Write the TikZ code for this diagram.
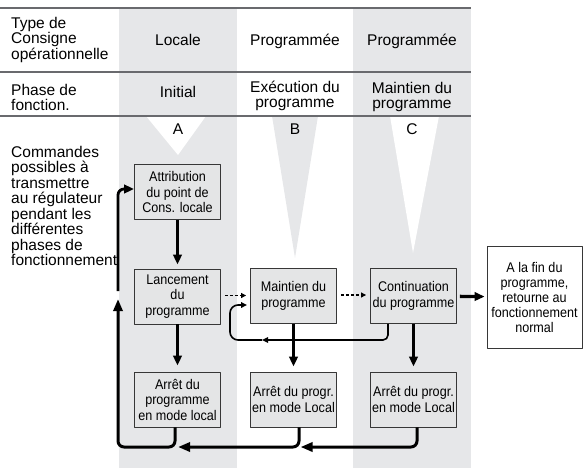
\documentclass[tikz,border=0pt]{standalone}
\usepackage{fontspec}
\setmainfont{Liberation Sans}
\newfontfamily\narrowsf[FakeStretch=0.9]{Liberation Sans}
\usepackage{tikz}
\usetikzlibrary{arrows.meta, positioning, calc}
\definecolor{colgray}{RGB}{230,231,233}
\definecolor{boxgray}{RGB}{228,229,230}
\definecolor{rulegray}{RGB}{105,106,110}
\definecolor{edgegray}{RGB}{55,55,55}
\tikzset{
  cmdbox/.style={rectangle, draw=edgegray, fill=boxgray, line width=0.9pt,
    minimum width=86pt, minimum height=55pt, align=center, inner sep=1pt,
    font=\narrowsf\fontsize{14}{15.5}\selectfont},
  endbox/.style={rectangle, draw=edgegray, fill=white, line width=0.9pt,
    minimum width=95pt, minimum height=102pt, align=center, inner sep=1pt,
    font=\narrowsf\fontsize{14}{15}\selectfont},
  headtext/.style={font=\fontsize{15.5}{15.5}\selectfont, inner sep=0pt, align=center},
  sidetext/.style={font=\fontsize{15.5}{15.5}\selectfont, inner sep=0pt,
    align=left, anchor=north west},
  sepline/.style={rulegray, line width=1.2pt},
  fatarrow/.style={-{Triangle[length=10pt,width=8.5pt]}, line width=2.8pt},
  busarrow/.style={-{Triangle[length=12pt,width=9pt]}, line width=3pt, rounded corners=6pt},
  thinarrow/.style={-{Triangle[length=6pt,width=5.5pt]}, line width=1.6pt},
  dasharrow/.style={-{Triangle[length=5pt,width=5pt]}, line width=1.1pt,
    dash pattern=on 3pt off 2pt}
}

\begin{document}
\begin{tikzpicture}[x=1pt, y=-1pt, line join=round]
  \useasboundingbox (0,0) rectangle (583,469);

  % --- Columns and phase wedges ---
  \fill[colgray] (119,8) rectangle (237,468);
  \fill[colgray] (353,8) rectangle (471,468);
  \fill[white] (146,116) -- (206,116) -- (178,155) -- cycle;
  \fill[colgray] (272,116) -- (318,116) -- (295,258) -- cycle;
  \fill[white] (390,116) -- (439,116) -- (413,253) -- cycle;

  \draw[sepline] (0,8) -- (471,8);
  \draw[sepline] (0,72) -- (471,72);
  \draw[sepline] (0,116) -- (471,116);

  % --- Row labels ---
  \node[sidetext] (typelbl) at (11,17) {Type de\\Consigne\\opérationnelle};
  \node[sidetext] (phaselbl) at (11,84) {Phase de\\fonction.};
  \node[sidetext] (cmdlbl) at (11,146) {Commandes\\possibles à\\transmettre\\au régulateur\\pendant les\\différentes\\phases de\\fonctionnement};

  \node[headtext, anchor=base] (typeA) at (178,45) {Locale};
  \node[headtext, anchor=base] (typeB) at (295,45) {Programmée};
  \node[headtext, anchor=base] (typeC) at (412,45) {Programmée};
  \node[headtext, anchor=base] (phaseA) at (178,97) {Initial};
  \node[headtext] (phaseB) at (295,96) {Exécution du\\programme};
  \node[headtext] (phaseC) at (412,97) {Maintien du\\programme};
  \node[headtext, anchor=base] (letA) at (178,134) {A};
  \node[headtext, anchor=base] (letB) at (295,134) {B};
  \node[headtext, anchor=base] (letC) at (412,134) {C};

  % --- Command boxes ---
  \node[cmdbox] (attr) at (177.5,192) {Attribution\\du point de\\Cons. locale};
  \node[cmdbox] (lanc) at (177.5,296.5) {Lancement\\du\\programme};
  \node[cmdbox] (arretA) at (177.5,399.5) {Arrêt du\\programme\\en mode local};
  \node[cmdbox] (maint) at (293.5,296) {Maintien du\\programme};
  \node[cmdbox] (arretB) at (293.5,399.5) {Arrêt du progr.\\en mode Local};
  \node[cmdbox] (cont) at (413.5,296) {Continuation\\du programme};
  \node[cmdbox] (arretC) at (413.5,399.5) {Arrêt du progr.\\en mode Local};
  \node[endbox] (fin) at (534.5,297) {A la fin du\\programme,\\retourne au\\fonctionnement\\normal};

  % --- Connectors ---
  \draw[fatarrow, shorten >=4pt] (attr) -- (lanc);
  \draw[fatarrow, shorten >=6pt] (lanc) -- (arretA);
  \draw[fatarrow, shorten >=5pt] (maint) -- (arretB);
  \draw[fatarrow, shorten >=5pt] (cont) -- (arretC);
  \draw[fatarrow, line width=3.3pt, shorten <=3pt, shorten >=2pt] (cont) -- (fin);
  \draw[dasharrow, shorten <=4pt, shorten >=4pt] ([yshift=1pt]lanc.east) -- ([yshift=1pt]lanc.east -| maint.west);
  \draw[dasharrow, shorten <=4pt, shorten >=4pt] ([yshift=1pt]maint.east) -- ([yshift=1pt]maint.east -| cont.west);

  % return to Maintien du programme
  \coordinate (fbmid) at (262,340);
  \coordinate (fbturn) at (230,340);
  \draw[thinarrow, rounded corners=5pt] ([xshift=-25.5pt]cont.south) |- (fbmid);
  \draw[thinarrow, rounded corners=8pt, shorten >=3pt] (fbmid) -- (fbturn) |- ([yshift=-9pt]maint.west);

  % return to Attribution du point de Cons. locale
  \coordinate (bus) at (0,447);
  \coordinate (buscorner) at (118,447);
  \coordinate (uptip) at (118,299);
  \coordinate (upstart) at (118,291);
  \draw[busarrow] ([xshift=3.5pt]arretC.south) |- ([xshift=7pt]arretB.south |- bus);
  \draw[busarrow] ([xshift=5.5pt]arretB.south) |- ([xshift=0.5pt]arretA.south |- bus);
  \draw[busarrow] ([xshift=-2.5pt]arretA.south) |- (buscorner) -- (uptip);
  \draw[fatarrow, rounded corners=6pt] (upstart) |- ([yshift=3pt]attr.west);
\end{tikzpicture}
\end{document}
